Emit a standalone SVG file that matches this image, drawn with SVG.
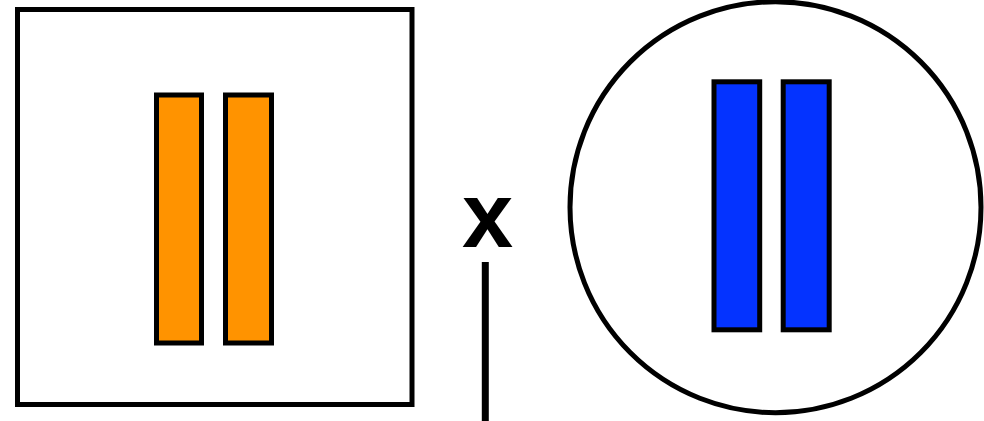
<svg xmlns="http://www.w3.org/2000/svg" width="984" height="421" viewBox="0 0 984 421">
<style>
.frame{fill:#fff;stroke:#000;stroke-width:5}
.bar{stroke:#000;stroke-width:5}
.orange{fill:#FF9300}
.blue{fill:#0433FF}
.lbl{font-family:"Liberation Sans",Arial,sans-serif;font-weight:bold;font-size:92px;fill:#000}
</style>
<rect width="984" height="421" fill="#fff"/>
<g id="square">
<rect class="frame" x="17.5" y="9.5" width="394.5" height="395"/>
<rect class="bar orange" x="156.5" y="95" width="45" height="248"/>
<rect class="bar orange" x="225.5" y="95" width="46" height="248"/>
</g>
<g id="circle">
<circle class="frame" cx="775.5" cy="207.2" r="205.5"/>
<rect class="bar blue" x="714" y="81.8" width="45.7" height="248"/>
<rect class="bar blue" x="783.2" y="81.8" width="46" height="248"/>
</g>
<g id="label">
<text class="lbl" x="487.5" y="246.7" text-anchor="middle">x</text>
</g>
<g id="connectors">
<line x1="485.3" y1="262" x2="485.3" y2="421" stroke="#000" stroke-width="7"/>
</g>
</svg>
